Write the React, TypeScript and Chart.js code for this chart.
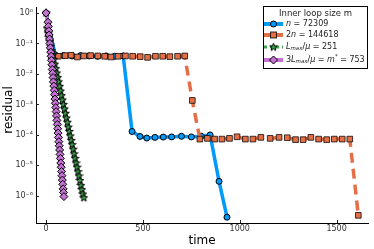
import { useEffect, useRef } from 'react';
import { Chart, registerables } from 'chart.js';

Chart.register(...registerables);

// ---- data (time, residual) ----
const blueT = [0, 46, 90, 134, 178, 222, 266, 310, 354, 398, 444, 485, 520, 562, 605, 648, 699, 750, 801, 847, 893, 934];
const blueR = [1, 4.3e-2, 4.0e-2, 3.9e-2, 4.0e-2, 3.9e-2, 3.8e-2, 3.9e-2, 3.8e-2, 3.9e-2, 1.3e-4, 8.9e-5, 7.9e-5, 8.3e-5, 8.5e-5, 8.6e-5, 9.0e-5, 8.6e-5, 9.1e-5, 1.0e-4, 3.0e-6, 2.0e-7];

const orangeT = [27, 63, 99, 129, 162, 194, 230, 267, 303, 335, 372, 410, 447, 486, 524, 565, 602, 639, 679, 716, 755, 794, 833, 870, 908, 947, 986, 1029, 1068, 1109, 1157, 1203, 1245, 1288, 1327, 1367, 1407, 1449, 1488, 1529, 1568, 1612];
const orangeR = [3.9e-2, 3.8e-2, 4.0e-2, 4.1e-2, 3.6e-2, 3.9e-2, 4.0e-2, 3.9e-2, 3.8e-2, 3.6e-2, 3.8e-2, 3.9e-2, 3.8e-2, 3.7e-2, 3.5e-2, 3.8e-2, 3.8e-2, 3.7e-2, 3.8e-2, 3.9e-2, 1.35e-3, 7.3e-5, 7.7e-5, 7.3e-5, 7.3e-5, 7.7e-5, 8.7e-5, 7.3e-5, 7.3e-5, 8.3e-5, 7.7e-5, 8.3e-5, 8.1e-5, 7.0e-5, 7.0e-5, 8.3e-5, 7.3e-5, 7.0e-5, 7.3e-5, 7.3e-5, 7.3e-5, 2.3e-7];

const greenT = [0, 5, 10, 15, 20, 25, 30, 35, 40, 45, 50, 55, 60, 65, 70, 75, 80, 85, 90, 95, 100, 105, 110, 115, 120, 125, 130, 135, 140, 145, 150, 155, 160, 165, 170, 175, 180, 185, 190, 195];
const greenR = [1, 3.2e-1, 2.2e-1, 1.6e-1, 1.15e-1, 8.1e-2, 5.8e-2, 4.2e-2, 3.0e-2, 2.1e-2, 1.5e-2, 1.07e-2, 7.6e-3, 5.5e-3, 3.9e-3, 2.75e-3, 1.95e-3, 1.4e-3, 1.0e-3, 7.1e-4, 5.1e-4, 3.6e-4, 2.6e-4, 1.8e-4, 1.3e-4, 9.3e-5, 6.6e-5, 4.8e-5, 3.4e-5, 2.4e-5, 1.7e-5, 1.2e-5, 8.7e-6, 6.2e-6, 4.5e-6, 3.2e-6, 2.2e-6, 1.6e-6, 1.15e-6, 8.7e-7];

const purpleT = [0, 10, 12, 14, 16, 18, 20, 22, 24, 26, 28, 30, 32, 34, 36, 38, 40, 42, 44, 46, 48, 50, 52, 54, 56, 58, 60, 62, 64, 66, 68, 70, 72, 74, 76, 78, 80, 82, 84, 86, 88, 90, 92];
const purpleR = [1, 5.0e-1, 3.6e-1, 2.6e-1, 1.9e-1, 1.4e-1, 1.0e-1, 7.2e-2, 5.2e-2, 3.8e-2, 2.8e-2, 2.0e-2, 1.4e-2, 1.05e-2, 7.6e-3, 5.5e-3, 4.0e-3, 2.9e-3, 2.1e-3, 1.5e-3, 1.1e-3, 7.9e-4, 5.8e-4, 4.2e-4, 3.0e-4, 2.2e-4, 1.6e-4, 1.15e-4, 8.3e-5, 6.0e-5, 4.4e-5, 3.2e-5, 2.3e-5, 1.7e-5, 1.2e-5, 8.7e-6, 6.3e-6, 4.6e-6, 3.3e-6, 2.4e-6, 1.7e-6, 1.3e-6, 9.5e-7];

const xTicks = [0, 500, 1000, 1500];
const yTicks = [1, 1e-1, 1e-2, 1e-3, 1e-4, 1e-5, 1e-6];
const yTickLabels = ['10⁰', '10⁻¹', '10⁻²', '10⁻³', '10⁻⁴', '10⁻⁵', '10⁻⁶'];

const legendTitle = 'Inner loop size m';
const xTitle = 'time';
const yTitle = 'residual';

const BLUE = '#009AFA';
const ORANGE = '#E36F47';
const GREEN = '#3EA44E';
const PURPLE = '#C371D2';
const FONT = '"DejaVu Sans"';

function makeStar(): HTMLCanvasElement {
  const c = document.createElement('canvas');
  c.width = 9;
  c.height = 9;
  const g = c.getContext('2d')!;
  g.beginPath();
  for (let i = 0; i < 10; i++) {
    const r = i % 2 === 0 ? 4 : 1.7;
    const a = -Math.PI / 2 + (i * Math.PI) / 5;
    const px = 4.5 + r * Math.cos(a);
    const py = 4.7 + r * Math.sin(a);
    if (i === 0) g.moveTo(px, py);
    else g.lineTo(px, py);
  }
  g.closePath();
  g.fillStyle = GREEN;
  g.fill();
  g.lineWidth = 1;
  g.strokeStyle = '#000';
  g.stroke();
  return c;
}

type Run = { t: string; it?: boolean; sub?: boolean; sup?: boolean };

function drawRuns(ctx: CanvasRenderingContext2D, x: number, y: number, runs: Run[]) {
  for (const r of runs) {
    const size = r.sub || r.sup ? 5.5 : 8;
    ctx.font = `${r.it ? 'italic ' : ''}${size}px ${FONT}`;
    const dy = r.sub ? 2 : r.sup ? -3 : 0;
    ctx.fillText(r.t, x, y + dy);
    x += ctx.measureText(r.t).width;
  }
}

export default function App() {
  const ref = useRef<HTMLCanvasElement>(null);

  useEffect(() => {
    const canvas = ref.current!;
    const star = makeStar();

    const overlay = {
      id: 'overlay',
      afterDraw(chart: any) {
        const ctx: CanvasRenderingContext2D = chart.ctx;
        const xs = chart.scales.x;
        const ys = chart.scales.y;
        const area = chart.chartArea;
        ctx.save();
        // inward ticks
        ctx.strokeStyle = '#222';
        ctx.lineWidth = 1;
        for (const v of yTicks) {
          const py = Math.round(ys.getPixelForValue(v)) + 0.5;
          ctx.beginPath();
          ctx.moveTo(area.left, py);
          ctx.lineTo(area.left + 3, py);
          ctx.stroke();
        }
        for (const v of xTicks) {
          const px = Math.round(xs.getPixelForValue(v)) + 0.5;
          ctx.beginPath();
          ctx.moveTo(px, area.bottom);
          ctx.lineTo(px, area.bottom - 3);
          ctx.stroke();
        }
        // axis titles
        ctx.fillStyle = '#000';
        ctx.textBaseline = 'middle';
        ctx.textAlign = 'center';
        ctx.font = `12px ${FONT}`;
        ctx.fillText(xTitle, (area.left + area.right) / 2, 241);
        ctx.save();
        ctx.translate(9, 110);
        ctx.rotate(-Math.PI / 2);
        ctx.fillText(yTitle, 0, 0);
        ctx.restore();

        // legend
        const bx = 263.5, by = 6.5, bw = 104, bh = 62;
        ctx.fillStyle = '#fff';
        ctx.fillRect(bx, by, bw, bh);
        ctx.strokeStyle = '#000';
        ctx.lineWidth = 1;
        ctx.strokeRect(bx, by, bw, bh);
        ctx.fillStyle = '#222';
        ctx.font = `8.5px ${FONT}`;
        ctx.textAlign = 'center';
        ctx.fillText(legendTitle, 315.5, 14);
        ctx.textAlign = 'left';

        const lx0 = 264, lx1 = 283, mx = 273.5, tx = 286;
        const rows = [24, 35, 47, 60];
        // blue
        ctx.strokeStyle = BLUE;
        ctx.lineWidth = 4;
        ctx.beginPath(); ctx.moveTo(lx0, rows[0]); ctx.lineTo(lx1, rows[0]); ctx.stroke();
        ctx.beginPath(); ctx.arc(mx, rows[0], 3, 0, Math.PI * 2);
        ctx.fillStyle = BLUE; ctx.fill();
        ctx.lineWidth = 1; ctx.strokeStyle = '#000'; ctx.stroke();
        // orange
        ctx.strokeStyle = ORANGE;
        ctx.lineWidth = 4;
        ctx.beginPath(); ctx.moveTo(lx0, rows[1]); ctx.lineTo(lx1, rows[1]); ctx.stroke();
        ctx.fillStyle = ORANGE;
        ctx.fillRect(mx - 3, rows[1] - 3, 6, 6);
        ctx.lineWidth = 1; ctx.strokeStyle = 'rgba(0,0,0,0.8)';
        ctx.strokeRect(mx - 3, rows[1] - 3, 6, 6);
        // green
        ctx.strokeStyle = GREEN;
        ctx.lineWidth = 3;
        ctx.setLineDash([3, 3]);
        ctx.beginPath(); ctx.moveTo(lx0, rows[2]); ctx.lineTo(lx1, rows[2]); ctx.stroke();
        ctx.setLineDash([]);
        ctx.drawImage(star, mx - 4.5, rows[2] - 4.5);
        // purple
        ctx.strokeStyle = PURPLE;
        ctx.lineWidth = 4;
        ctx.beginPath(); ctx.moveTo(lx0, rows[3]); ctx.lineTo(lx1, rows[3]); ctx.stroke();
        ctx.beginPath();
        ctx.moveTo(mx, rows[3] - 4); ctx.lineTo(mx + 4, rows[3]); ctx.lineTo(mx, rows[3] + 4); ctx.lineTo(mx - 4, rows[3]); ctx.closePath();
        ctx.fillStyle = PURPLE; ctx.fill();
        ctx.lineWidth = 1; ctx.strokeStyle = '#000'; ctx.stroke();

        ctx.fillStyle = '#222';
        ctx.textBaseline = 'middle';
        drawRuns(ctx, tx, rows[0], [{ t: 'n', it: true }, { t: ' = 72309' }]);
        drawRuns(ctx, tx, rows[1], [{ t: '2' }, { t: 'n', it: true }, { t: ' = 144618' }]);
        drawRuns(ctx, tx, rows[2], [{ t: 'L', it: true }, { t: 'max', it: true, sub: true }, { t: '/' }, { t: 'μ', it: true }, { t: ' = 251' }]);
        drawRuns(ctx, tx, rows[3], [{ t: '3' }, { t: 'L', it: true }, { t: 'max', it: true, sub: true }, { t: '/' }, { t: 'μ', it: true }, { t: ' = ' }, { t: 'm', it: true }, { t: '*', sup: true }, { t: ' = 753' }]);
        ctx.restore();
      },
    };

    const toXY = (ts: number[], rs: number[]) => ts.map((t, i) => ({ x: t, y: rs[i] }));

    const chart = new Chart(canvas, {
      type: 'line',
      data: {
        datasets: [
          {
            label: 'n = 72309',
            data: toXY(blueT, blueR),
            borderColor: BLUE,
            borderWidth: 3.5,
            pointStyle: 'circle',
            pointRadius: 3,
            pointBackgroundColor: BLUE,
            pointBorderColor: '#000',
            pointBorderWidth: 1,
            order: 3,
          },
          {
            label: '2n = 144618',
            data: toXY(orangeT, orangeR),
            borderColor: ORANGE,
            borderWidth: 3.5,
            borderDash: [10, 6],
            pointStyle: 'rect',
            pointRadius: 4,
            pointBackgroundColor: ORANGE,
            pointBorderColor: 'rgba(0,0,0,0.75)',
            pointBorderWidth: 1,
            order: 2,
          },
          {
            label: 'Lmax/μ = 251',
            data: toXY(greenT, greenR),
            borderColor: GREEN,
            borderWidth: 2,
            borderDash: [2, 3],
            pointStyle: star,
            pointRadius: 4,
            order: 1,
          },
          {
            label: '3Lmax/μ = m* = 753',
            data: toXY(purpleT, purpleR),
            borderColor: PURPLE,
            borderWidth: 3,
            borderDash: [8, 3, 2, 3],
            pointStyle: 'rectRot',
            pointRadius: 4,
            pointBackgroundColor: PURPLE,
            pointBorderColor: '#000',
            pointBorderWidth: 1,
            order: 0,
          },
        ],
      },
      options: {
        animation: false,
        responsive: false,
        devicePixelRatio: 1,
        layout: { padding: { top: 2, right: 2, left: 0, bottom: 0 } },
        plugins: { legend: { display: false }, tooltip: { enabled: false } },
        elements: { line: { tension: 0 } },
        scales: {
          x: {
            type: 'linear',
            min: -52,
            max: 1662,
            grid: { display: false, drawTicks: false },
            border: { display: true, color: '#000', width: 1 },
            ticks: {
              font: { family: 'DejaVu Sans', size: 8 },
              color: '#333',
              padding: 1,
              maxRotation: 0,
              callback: (v: any) => String(v),
            },
            afterBuildTicks: (s: any) => {
              s.ticks = xTicks.map((v) => ({ value: v }));
            },
            afterFit: (s: any) => {
              s.height = 26;
            },
          },
          y: {
            type: 'logarithmic',
            min: 1.29e-7,
            max: 1.48,
            grid: { display: false, drawTicks: false },
            border: { display: true, color: '#000', width: 1 },
            ticks: {
              font: { family: 'DejaVu Sans', size: 8 },
              color: '#333',
              padding: 3,
              autoSkip: false,
              callback: (v: any) => {
                const i = yTicks.findIndex((t) => Math.abs(Math.log10(t) - Math.log10(v)) < 1e-6);
                return i >= 0 ? yTickLabels[i] : '';
              },
            },
            afterBuildTicks: (s: any) => {
              s.ticks = yTicks.map((v) => ({ value: v }));
            },
            afterFit: (s: any) => {
              s.width = 36;
            },
          },
        },
      },
      plugins: [overlay],
    });

    return () => chart.destroy();
  }, []);

  return (
    <div style={{ position: 'fixed', left: 0, top: 0, width: 374, height: 249, background: '#fff' }}>
      <canvas ref={ref} width={374} height={249} style={{ display: 'block' }} />
    </div>
  );
}
